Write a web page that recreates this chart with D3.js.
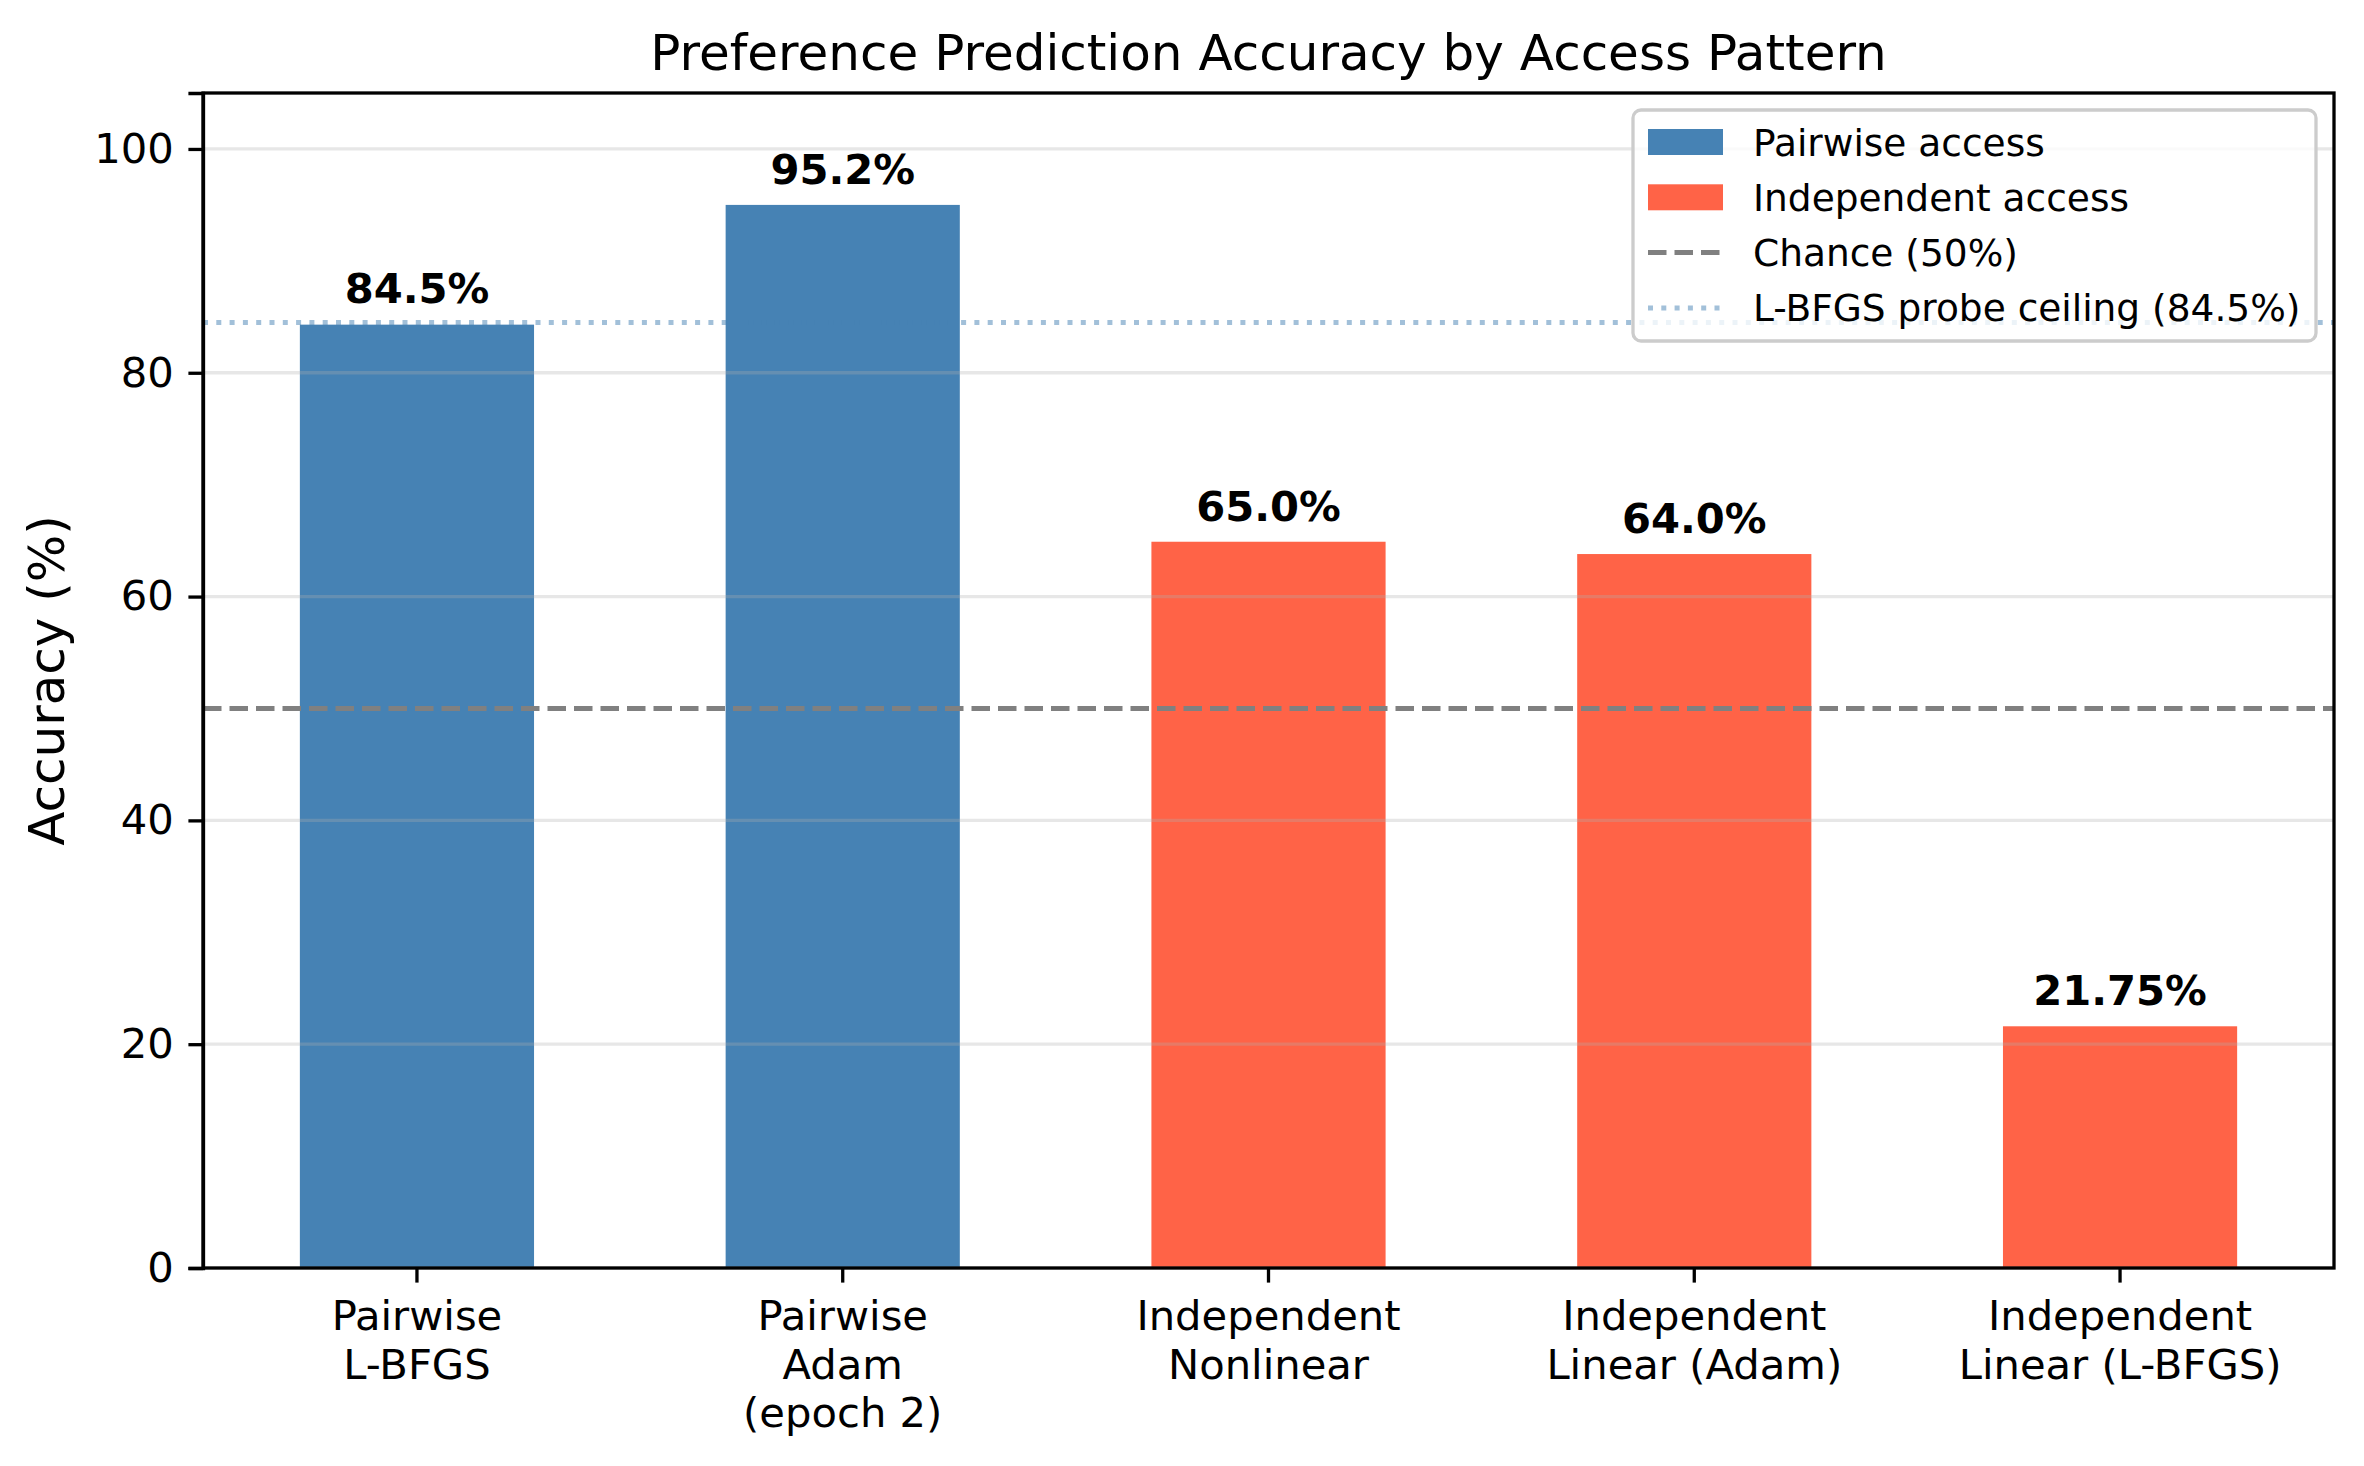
<!DOCTYPE html>
<html>
<head>
<meta charset="utf-8">
<script src="https://cdn.jsdelivr.net/npm/d3@7"></script>
<style>
  body { margin: 0; background: #fff; }
  svg text { font-family: "DejaVu Sans", sans-serif; fill: #000; }
  .axis path, .axis line { stroke: #000; stroke-width: 3.3px; }
  .axis text { font-size: 41.7px; }
  .bar-label { font-size: 41.7px; font-weight: bold; }
  .legend-text { font-size: 37.5px; }
</style>
</head>
<body>
<div id="chart-area"></div>
<script>
// ---- data ----
var categories = ["Pairwise\nL-BFGS", "Pairwise\nAdam\n(epoch 2)", "Independent\nNonlinear", "Independent\nLinear (Adam)", "Independent\nLinear (L-BFGS)"];
var accuracies = [84.3, 95.0, 64.9, 63.8, 21.6];
var valueLabels = ["84.5%", "95.2%", "65.0%", "64.0%", "21.75%"];
var accessGroup = ["Pairwise", "Pairwise", "Independent", "Independent", "Independent"];
var yTicks = [0, 20, 40, 60, 80, 100];
var chanceLevel = 50;
var ceilingLevel = 84.5;
var legendLabels = ["Pairwise access", "Independent access", "Chance (50%)", "L-BFGS probe ceiling (84.5%)"];

var colors = { "Pairwise": "#4682b4", "Independent": "#ff6347" };

var margin = { left: 203, right: 30, top: 93, bottom: 198 };
var width = 2364 - margin.left - margin.right;
var height = 1466 - margin.top - margin.bottom;

var svg = d3.select("#chart-area")
    .append("svg")
        .attr("width", 2364)
        .attr("height", 1466)
    .append("g")
        .attr("transform", "translate(" + margin.left + "," + margin.top + ")");

var x = d3.scaleBand()
    .domain(categories)
    .range([0, width])
    .paddingInner(0.45)
    .paddingOuter(0.2275);

var y = d3.scaleLinear()
    .domain([0, 105])
    .range([height, 0]);

// bars
svg.selectAll(".bar")
    .data(categories)
  .enter().append("rect")
    .attr("class", "bar")
    .attr("x", function(d){ return x(d); })
    .attr("width", x.bandwidth())
    .attr("y", function(d, i){ return y(accuracies[i]); })
    .attr("height", function(d, i){ return y(0) - y(accuracies[i]); })
    .attr("fill", function(d, i){ return colors[accessGroup[i]]; });

// grid (drawn over bars, semi transparent)
svg.selectAll(".grid")
    .data(yTicks)
  .enter().append("line")
    .attr("class", "grid")
    .attr("x1", 0)
    .attr("x2", width)
    .attr("y1", function(d){ return y(d); })
    .attr("y2", function(d){ return y(d); })
    .attr("stroke", "#b0b0b0")
    .attr("stroke-opacity", 0.3)
    .attr("stroke-width", 3.3);

// reference lines
var dashed = { color: "#808080", opacity: 1, width: 5, dash: "18.5 8" };
var dotted = { color: "#4682b4", opacity: 0.5, width: 5, dash: "5 8.3" };

function refLine(sel, x1, x2, yy, st){
    return sel.append("line")
        .attr("x1", x1).attr("x2", x2)
        .attr("y1", yy).attr("y2", yy)
        .attr("stroke", st.color)
        .attr("stroke-opacity", st.opacity)
        .attr("stroke-width", st.width)
        .attr("stroke-dasharray", st.dash);
}

refLine(svg, 0, width, y(chanceLevel), dashed);
refLine(svg, 0, width, y(ceilingLevel), dotted);

// value labels
svg.selectAll(".bar-label")
    .data(categories)
  .enter().append("text")
    .attr("class", "bar-label")
    .attr("x", function(d){ return x(d) + x.bandwidth() / 2; })
    .attr("y", function(d, i){ return y(accuracies[i] + 1) - 10; })
    .attr("text-anchor", "middle")
    .text(function(d, i){ return valueLabels[i]; });

// axes
var yAxis = svg.append("g")
    .attr("class", "axis")
    .call(d3.axisLeft(y).tickValues(yTicks).tickSize(14.6).tickPadding(14.6).tickFormat(d3.format("d")));
yAxis.selectAll("text").attr("font-family", "DejaVu Sans").attr("font-size", "41.7px");

var xAxis = svg.append("g")
    .attr("class", "axis")
    .attr("transform", "translate(0," + height + ")")
    .call(d3.axisBottom(x).tickSize(14.6).tickPadding(14.6));
xAxis.select(".domain").remove();
xAxis.selectAll("text").each(function(d){
    var t = d3.select(this);
    t.text(null).attr("y", 0).attr("dy", null);
    d.split("\n").forEach(function(line, k){
        t.append("tspan")
            .attr("x", 0)
            .attr("y", 62 + k * 48.5)
            .text(line);
    });
});
xAxis.selectAll("text").attr("font-family", "DejaVu Sans").attr("font-size", "41.7px");

// frame
svg.append("rect")
    .attr("x", 0).attr("y", 0)
    .attr("width", width).attr("height", height)
    .attr("fill", "none")
    .attr("stroke", "#000")
    .attr("stroke-width", 3.3);

// title and y label
svg.append("text")
    .attr("x", width / 2)
    .attr("y", -23)
    .attr("text-anchor", "middle")
    .attr("font-size", "50px")
    .text("Preference Prediction Accuracy by Access Pattern");

svg.append("text")
    .attr("transform", "translate(" + (64 - margin.left) + "," + (height / 2) + ") rotate(-90)")
    .attr("text-anchor", "middle")
    .attr("font-size", "50px")
    .text("Accuracy (%)");

// legend
var legend = svg.append("g")
    .attr("transform", "translate(" + (1633 - margin.left) + "," + (110 - margin.top) + ")");

legend.append("rect")
    .attr("width", 683)
    .attr("height", 231)
    .attr("rx", 8)
    .attr("fill", "#fff")
    .attr("fill-opacity", 0.8)
    .attr("stroke", "#cccccc")
    .attr("stroke-width", 3.3);

var rowY = function(i){ return 32 + i * 55.3; };

legend.selectAll(".legend-text")
    .data(legendLabels)
  .enter().append("text")
    .attr("class", "legend-text")
    .attr("x", 120)
    .attr("y", function(d, i){ return rowY(i); })
    .attr("dy", "0.36em")
    .text(function(d){ return d; });

legend.append("rect")
    .attr("x", 15).attr("y", rowY(0) - 13)
    .attr("width", 75).attr("height", 26)
    .attr("fill", colors["Pairwise"]);
legend.append("rect")
    .attr("x", 15).attr("y", rowY(1) - 13)
    .attr("width", 75).attr("height", 26)
    .attr("fill", colors["Independent"]);
refLine(legend, 15, 90, rowY(2), dashed);
refLine(legend, 15, 90, rowY(3), dotted);
</script>
</body>
</html>
